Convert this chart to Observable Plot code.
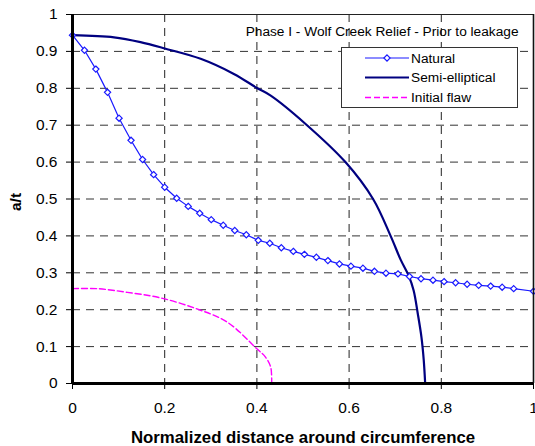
<!DOCTYPE html>
<html>
<head>
<meta charset="utf-8">
<script src="https://cdn.jsdelivr.net/npm/d3@7"></script>
<script src="https://cdn.jsdelivr.net/npm/@observablehq/plot@0.6"></script>
<style>
  html, body { margin: 0; padding: 0; background: white; }
  #chart { position: relative; width: 535px; height: 446px; }
</style>
</head>
<body>
<div id="chart"></div>
<script>
const chartTitle = "Phase I - Wolf Creek Relief - Prior to leakage";
const xLabel = "Normalized distance around circumference";
const yLabel = "a/t";
const seriesNames = ["Natural", "Semi-elliptical", "Initial flaw"];

const xTicks = [0, 0.2, 0.4, 0.6, 0.8, 1];
const xTickLabels = ["0", "0.2", "0.4", "0.6", "0.8", "1"];
const yTicks = [0, 0.1, 0.2, 0.3, 0.4, 0.5, 0.6, 0.7, 0.8, 0.9, 1];
const yTickLabels = ["0", "0.1", "0.2", "0.3", "0.4", "0.5", "0.6", "0.7", "0.8", "0.9", "1"];

const naturalX = [0, 0.026, 0.0506, 0.076, 0.101, 0.127, 0.152, 0.176, 0.2, 0.226, 0.251, 0.276, 0.301, 0.327, 0.352, 0.377, 0.403, 0.428, 0.453, 0.479, 0.503, 0.529, 0.554, 0.579, 0.604, 0.63, 0.655, 0.68, 0.706, 0.731, 0.756, 0.782, 0.806, 0.831, 0.856, 0.881, 0.907, 0.932, 0.957, 1.0];
const naturalY = [0.944, 0.903, 0.852, 0.789, 0.719, 0.659, 0.607, 0.566, 0.532, 0.502, 0.480, 0.4615, 0.444, 0.429, 0.4146, 0.403, 0.388, 0.380, 0.368, 0.358, 0.350, 0.342, 0.333, 0.324, 0.318, 0.3125, 0.304, 0.299, 0.297, 0.290, 0.284, 0.280, 0.276, 0.273, 0.269, 0.266, 0.264, 0.261, 0.257, 0.250];

const semiX = [0, 0.09, 0.1475, 0.2, 0.278, 0.35, 0.40, 0.43, 0.505, 0.592, 0.652, 0.69, 0.712, 0.729, 0.740, 0.749, 0.757, 0.762, 0.765];
const semiY = [0.944, 0.938, 0.925, 0.908, 0.88, 0.839, 0.801, 0.78, 0.704, 0.600, 0.500, 0.40, 0.335, 0.293, 0.252, 0.189, 0.125, 0.062, 0];

const flawX = [0, 0.0535, 0.119, 0.191, 0.27, 0.336, 0.40, 0.419, 0.43, 0.432];
const flawY = [0.257, 0.257, 0.247, 0.232, 0.202, 0.166, 0.094, 0.071, 0.044, 0];

const colors = ["#1a1aff", "#000080", "#ff00ff"];

const natural = naturalX.map((x, i) => ({x, y: naturalY[i]}));
const semi = semiX.map((x, i) => ({x, y: semiY[i]}));
const flaw = flawX.map((x, i) => ({x, y: flawY[i]}));

const font = "'Liberation Sans', Arial, sans-serif";

const plot = Plot.plot({
  width: 535,
  height: 446,
  marginLeft: 72,
  marginRight: 2,
  marginTop: 14,
  marginBottom: 63,
  style: {fontFamily: font, fontSize: "15.5px", background: "white", overflow: "visible", color: "#000"},
  x: {domain: [0, 1]},
  y: {domain: [0, 1]},
  marks: [
    Plot.gridX(xTicks.slice(1, -1), {stroke: "#222", strokeOpacity: 1, strokeWidth: 1, strokeDasharray: "8,6"}),
    Plot.gridY(yTicks.slice(1, -1), {stroke: "#333", strokeOpacity: 1, strokeWidth: 1, strokeDasharray: "8,6"}),
    Plot.axisX(xTicks, {tickSize: 6, tickPadding: 12, tickFormat: (d, i) => xTickLabels[i], label: null, fontSize: 15.5}),
    Plot.axisY(yTicks, {tickSize: 6, tickPadding: 9, tickFormat: (d, i) => yTickLabels[i], label: null, fontSize: 15.5}),
    Plot.line(flaw, {x: "x", y: "y", stroke: colors[2], strokeWidth: 1.4, strokeDasharray: "6,3", curve: "catmull-rom"}),
    Plot.line(semi, {x: "x", y: "y", stroke: colors[1], strokeWidth: 2.2, curve: "catmull-rom"}),
    Plot.line(natural, {x: "x", y: "y", stroke: colors[0], strokeWidth: 1.2}),
    Plot.dot(natural, {x: "x", y: "y", symbol: "diamond2", r: 2.8, stroke: colors[0], strokeWidth: 1.2, fill: "white"}),
    Plot.ruleY([1], {stroke: "#222", strokeWidth: 1}),
    Plot.ruleX([1], {stroke: "#111", strokeWidth: 1.6}),
    Plot.ruleY([0], {stroke: "#000", strokeWidth: 3}),
    Plot.ruleX([0], {stroke: "#000", strokeWidth: 3}),
    Plot.text([chartTitle], {frameAnchor: "top-right", dx: -15, dy: 17, textAnchor: "end", lineAnchor: "middle", fontSize: 13.7, fill: "#000"}),
    Plot.text([xLabel], {frameAnchor: "bottom", dy: 54, textAnchor: "middle", lineAnchor: "middle", fontSize: 16.8, fontWeight: "bold", fill: "#000"}),
    Plot.text([yLabel], {frameAnchor: "left", dx: -56, dy: 3, rotate: -90, textAnchor: "middle", lineAnchor: "middle", fontSize: 15.5, fontWeight: "bold", fill: "#000"})
  ]
});

document.getElementById("chart").appendChild(plot);

// Legend drawn inside the plot area
const svg = d3.select(plot);
const lg = svg.append("g").attr("font-family", font).attr("font-size", "13.7px").attr("text-anchor", "start");
lg.append("rect").attr("x", 341.5).attr("y", 47.5).attr("width", 176).attr("height", 60)
  .attr("fill", "white").attr("stroke", "#333").attr("stroke-width", 1);
const rowsY = [58, 77.5, 97.5];
seriesNames.forEach((name, i) => {
  const y = rowsY[i];
  const line = lg.append("line").attr("x1", 365).attr("x2", 409).attr("y1", y).attr("y2", y)
    .attr("stroke", colors[i]);
  if (i === 0) line.attr("stroke-width", 1.2);
  if (i === 1) line.attr("stroke-width", 2.2);
  if (i === 2) line.attr("stroke-width", 1.6).attr("stroke-dasharray", "6,3");
  if (i === 0) {
    lg.append("path").attr("d", d3.symbol(d3.symbolDiamond2, Math.PI * 2.8 * 2.8)())
      .attr("transform", `translate(387,${y})`).attr("fill", "white").attr("stroke", colors[0]).attr("stroke-width", 1.2);
  }
  lg.append("text").attr("x", 411).attr("y", y).attr("dy", "0.35em").attr("text-anchor", "start").attr("fill", "#000").text(name);
});
</script>
</body>
</html>
